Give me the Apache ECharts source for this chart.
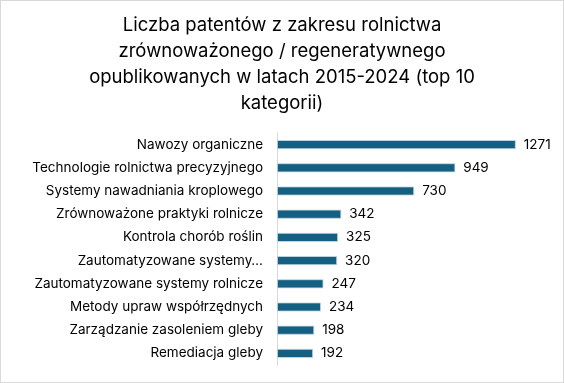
<!DOCTYPE html>
<html><head><meta charset="utf-8">
<script src="https://cdn.jsdelivr.net/npm/echarts@6/dist/echarts.min.js"></script>
<style>html,body{margin:0;padding:0;background:#fff}#c{width:564px;height:383px;box-sizing:border-box;border:1px solid #D9D9D9}</style>
</head><body><div id="c"></div>
<script>
const categories = ["Nawozy organiczne","Technologie rolnictwa precyzyjnego","Systemy nawadniania kroplowego","Zrównoważone praktyki rolnicze","Kontrola chorób roślin","Zautomatyzowane systemy…","Zautomatyzowane systemy rolnicze","Metody upraw współrzędnych","Zarządzanie zasoleniem gleby","Remediacja gleby"];
const values = [1271,949,730,342,325,320,247,234,198,192];
const titleText = "Liczba patentów z zakresu rolnictwa\nzrównoważonego / regeneratywnego\nopublikowanych w latach 2015-2024 (top 10\nkategorii)";
const chart = echarts.init(document.getElementById('c'));
chart.setOption({
  animation:false,
  title:{text:titleText,left:'center',top:7,textStyle:{fontFamily:'Inter',fontSize:18.5,fontWeight:'normal',color:'#000',lineHeight:25.8}},
  grid:{left:276,right:23,top:132,bottom:17,containLabel:false},
  xAxis:{type:'value',min:0,max:1400,show:false},
  yAxis:{type:'category',data:categories,inverse:true,
    axisLine:{show:true,lineStyle:{color:'#D9D9D9'}},axisTick:{show:false},
    axisLabel:{margin:14,fontFamily:'Inter',fontSize:13.5,color:'#000'}},
  series:[{type:'bar',data:values,barWidth:9,
    itemStyle:{color:'#156082',borderColor:'#C9DCE6',borderWidth:0.8},
    label:{show:true,position:'right',distance:8,fontFamily:'Inter',fontSize:13.5,color:'#000'}}]
});
</script></body></html>
